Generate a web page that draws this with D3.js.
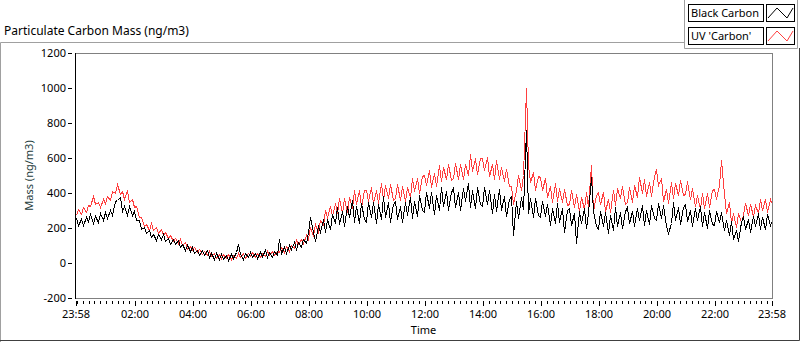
<!DOCTYPE html>
<html>
<head>
<meta charset="utf-8">
<script src="https://cdn.jsdelivr.net/npm/d3@7"></script>
<style>
    body { margin: 0; background: #fff; }
    text { font-family: "Noto Sans", "Open Sans", sans-serif; fill: #000; }
</style>
</head>
<body>
<svg id="chart" width="800" height="342"></svg>
<script>
const chartTitle = 'Particulate Carbon Mass (ng/m3)'
const yTitle = 'Mass (ng/m3)'
const xTitle = 'Time'
const seriesNames = ['Black Carbon', "UV 'Carbon'"]
const seriesColors = ['#000000', '#ff3f3f']

// one sample every 5 minutes, starting 23:58 (12 samples per row = 1 hour)
const stepMinutes = 5

const blackCarbon = [
    260, 220, 253, 215, 265, 238, 280, 230, 270, 233, 283, 248,
    293, 258, 303, 272, 355, 360, 375, 300, 327, 275, 328, 273,
    298, 244, 246, 192, 206, 174, 189, 150, 167, 132, 168, 136,
    163, 127, 144, 110, 138, 111, 134, 90, 111, 76, 104, 71,
    93, 58, 76, 43, 73, 48, 73, 32, 56, 24, 55, 25,
    53, 22, 45, 17, 52, 31, 61, 110, 52, 24, 59, 33,
    63, 33, 56, 28, 62, 42, 72, 35, 63, 35, 70, 44,
    140, 59, 89, 58, 104, 81, 121, 80, 119, 90, 140, 117,
    180, 265, 180, 126, 212, 179, 253, 179, 249, 195, 281, 231,
    320, 223, 300, 209, 328, 261, 362, 236, 326, 228, 341, 250,
    237, 348, 262, 350, 228, 339, 251, 381, 264, 346, 236, 337,
    355, 254, 327, 232, 347, 276, 377, 258, 356, 268, 388, 302,
    292, 403, 316, 403, 280, 391, 303, 437, 325, 411, 305, 407,
    430, 322, 403, 302, 429, 354, 458, 320, 417, 312, 434, 336,
    327, 432, 338, 418, 288, 392, 298, 424, 304, 382, 268, 364,
    380, 160, 352, 260, 378, 311, 760, 286, 371, 265, 369, 274,
    261, 355, 268, 340, 219, 313, 226, 344, 237, 312, 175, 301,
    313, 218, 283, 115, 296, 228, 316, 200, 283, 490, 298, 212,
    196, 295, 212, 290, 174, 273, 190, 321, 212, 294, 200, 299,
    320, 230, 298, 210, 312, 243, 331, 219, 305, 223, 334, 255,
    246, 345, 257, 330, 212, 170, 226, 346, 243, 322, 225, 319,
    335, 240, 303, 212, 314, 244, 328, 211, 291, 201, 305, 222,
    219, 300, 233, 291, 186, 247, 160, 239, 138, 191, 125, 232,
    270, 195, 251, 180, 266, 213, 286, 194, 263, 193, 281, 215,
    245
]

const uvCarbon = [
    273, 310, 280, 319, 290, 332, 324, 384, 335, 350, 320, 366,
    343, 385, 360, 409, 398, 450, 394, 409, 368, 418, 350, 366,
    319, 323, 264, 263, 210, 221, 191, 227, 189, 208, 172, 196,
    161, 180, 145, 161, 126, 143, 115, 138, 105, 118, 81, 100,
    74, 92, 61, 80, 50, 67, 45, 69, 41, 58, 28, 51,
    30, 52, 27, 50, 25, 48, 31, 59, 36, 57, 31, 57,
    39, 62, 36, 60, 36, 59, 42, 71, 48, 69, 43, 69,
    61, 94, 64, 98, 70, 105, 88, 130, 107, 140, 116, 159,
    139, 207, 154, 225, 177, 248, 217, 304, 261, 324, 270, 343,
    285, 372, 285, 373, 290, 375, 315, 420, 340, 415, 322, 415,
    415, 353, 437, 341, 420, 345, 460, 361, 443, 369, 450, 360,
    370, 452, 359, 441, 353, 435, 378, 486, 409, 487, 400, 498,
    502, 443, 529, 435, 516, 442, 562, 467, 551, 480, 563, 475,
    485, 570, 480, 565, 480, 565, 505, 625, 528, 601, 508, 600,
    600, 530, 605, 500, 568, 480, 587, 479, 551, 468, 540, 440,
    440, 340, 420, 505, 420, 505, 1000, 560, 465, 520, 415, 495,
    490, 415, 485, 375, 440, 350, 460, 355, 430, 350, 425, 332,
    340, 418, 320, 395, 300, 375, 308, 406, 320, 560, 298, 390,
    405, 335, 405, 295, 365, 290, 415, 330, 430, 370, 440, 338,
    348, 435, 350, 445, 375, 490, 400, 480, 385, 465, 385, 495,
    540, 445, 485, 355, 425, 345, 465, 370, 455, 390, 475, 390,
    395, 470, 365, 430, 325, 390, 310, 400, 315, 400, 320, 420,
    421, 368, 445, 590, 397, 285, 349, 229, 286, 208, 285, 234,
    276, 345, 272, 338, 266, 330, 283, 368, 305, 364, 290, 364,
    335
]

const yTicks = [-200, 0, 200, 400, 600, 800, 1000, 1200]
const xTickLabels = ['23:58', '02:00', '04:00', '06:00', '08:00', '10:00', '12:00',
    '14:00', '16:00', '18:00', '20:00', '22:00', '23:58']

const W = 800, H = 342
const plot = { left: 75, right: 772, top: 53, bottom: 298 }

const startTime = new Date(2000, 0, 1, 23, 58)
const endTime = new Date(2000, 0, 2, 23, 58)
const timeAt = i => new Date(startTime.getTime() + i * stepMinutes * 60000)

const svg = d3.select('#chart')

const x = d3.scaleTime()
    .domain([startTime, endTime])
    .range([plot.left + 1, plot.right])

const y = d3.scaleLinear()
    .domain([-200, 1200])
    .range([plot.bottom, plot.top])

// outer frame
svg.append('path')
    .attr('d', `M0.5,${H} V42.5 H684`)
    .attr('fill', 'none').attr('stroke', '#a0a0a0')
svg.append('path')
    .attr('d', `M0,${H - 1.5} H${W - 0.5} V48`)
    .attr('fill', 'none').attr('stroke', '#404040')

svg.append('text')
    .attr('x', 4).attr('y', 35)
    .style('font-size', '12px')
    .text(chartTitle)

// plot area
svg.append('rect')
    .attr('x', plot.left + 0.5).attr('y', plot.top + 0.5)
    .attr('width', plot.right - plot.left).attr('height', plot.bottom - plot.top)
    .attr('fill', '#fff').attr('stroke', '#808080')

svg.append('clipPath').attr('id', 'clip')
    .append('rect')
    .attr('x', plot.left + 1).attr('y', plot.top + 1)
    .attr('width', plot.right - plot.left - 1).attr('height', plot.bottom - plot.top - 1)

const line = d3.line()
    .x((d, i) => Math.round(x(timeAt(i))) + 0.5)
    .y(d => Math.round(y(d)) + 0.5)

// red drawn first, black on top
const series = [uvCarbon, blackCarbon]
const colors = [seriesColors[1], seriesColors[0]]

svg.append('g')
    .attr('clip-path', 'url(#clip)')
    .selectAll('path')
    .data(series)
    .enter()
        .append('path')
        .attr('d', line)
        .attr('fill', 'none')
        .attr('stroke', (d, i) => colors[i])
        .attr('stroke-width', 1)
        .attr('shape-rendering', 'crispEdges')

// y axis line
svg.append('line')
    .attr('x1', plot.left + 0.5).attr('x2', plot.left + 0.5)
    .attr('y1', plot.top).attr('y2', plot.bottom + 1)
    .attr('stroke', '#000')

const yAxis = svg.append('g')
yAxis.selectAll('line')
    .data(yTicks)
    .enter()
        .append('line')
        .attr('x1', 68).attr('x2', 72)
        .attr('y1', d => Math.round(y(d)) + 0.5)
        .attr('y2', d => Math.round(y(d)) + 0.5)
        .attr('stroke', '#000')
yAxis.selectAll('text')
    .data(yTicks)
    .enter()
        .append('text')
        .attr('x', 66)
        .attr('y', d => y(d))
        .attr('dy', '0.35em')
        .attr('text-anchor', 'end')
        .style('font-size', '11px')
        .text(d => d)

svg.append('text')
    .attr('transform', `translate(33,${(plot.top + plot.bottom) / 2}) rotate(-90)`)
    .attr('text-anchor', 'middle')
    .style('font-size', '11px')
    .style('fill', '#1d3b3b')
    .text(yTitle)

// x axis ticks
const majorTimes = [startTime]
    .concat(d3.range(1, 12).map(k => new Date(2000, 0, 2, 2 * k, 0)))
    .concat([endTime])
const minorTimes = d3.timeMinute.every(12).range(startTime, endTime)

const xAxis = svg.append('g')
xAxis.selectAll('line.minor')
    .data(minorTimes)
    .enter()
        .append('line')
        .attr('class', 'minor')
        .attr('x1', d => Math.round(x(d)) + 0.5).attr('x2', d => Math.round(x(d)) + 0.5)
        .attr('y1', 301).attr('y2', 304)
        .attr('stroke', '#000')
xAxis.selectAll('line.major')
    .data(majorTimes)
    .enter()
        .append('line')
        .attr('class', 'major')
        .attr('x1', d => Math.round(x(d)) + 0.5).attr('x2', d => Math.round(x(d)) + 0.5)
        .attr('y1', 301).attr('y2', 306)
        .attr('stroke', '#000')
xAxis.selectAll('text')
    .data(majorTimes)
    .enter()
        .append('text')
        .attr('x', d => x(d))
        .attr('y', 318)
        .attr('text-anchor', 'middle')
        .style('font-size', '11px')
        .text((d, i) => xTickLabels[i])

svg.append('text')
    .attr('x', (plot.left + plot.right) / 2)
    .attr('y', 334)
    .attr('text-anchor', 'middle')
    .style('font-size', '11px')
    .text(xTitle)

// legend panel
const legend = svg.append('g')
legend.append('path')
    .attr('d', 'M684.5,0 V48.5 H797.5 V0')
    .attr('fill', '#fff').attr('stroke', '#a0a0a0')

const legendRows = legend.selectAll('g')
    .data(seriesNames)
    .enter()
        .append('g')
        .attr('transform', (d, i) => `translate(0,${4 + i * 23})`)

legendRows.append('rect')
    .attr('x', 688.5).attr('y', 0.5)
    .attr('width', 75).attr('height', 17)
    .attr('fill', '#fff').attr('stroke', '#000')
legendRows.append('text')
    .attr('x', 691).attr('y', 13)
    .style('font-size', '11px')
    .text(d => d)
legendRows.append('rect')
    .attr('x', 766.5).attr('y', 0.5)
    .attr('width', 28).attr('height', 17)
    .attr('fill', '#fff').attr('stroke', '#000')
legendRows.append('path')
    .attr('d', 'M768,14 L777,4 L787,14 L793,4')
    .attr('fill', 'none')
    .attr('stroke', (d, i) => seriesColors[i])
</script>
</body>
</html>
